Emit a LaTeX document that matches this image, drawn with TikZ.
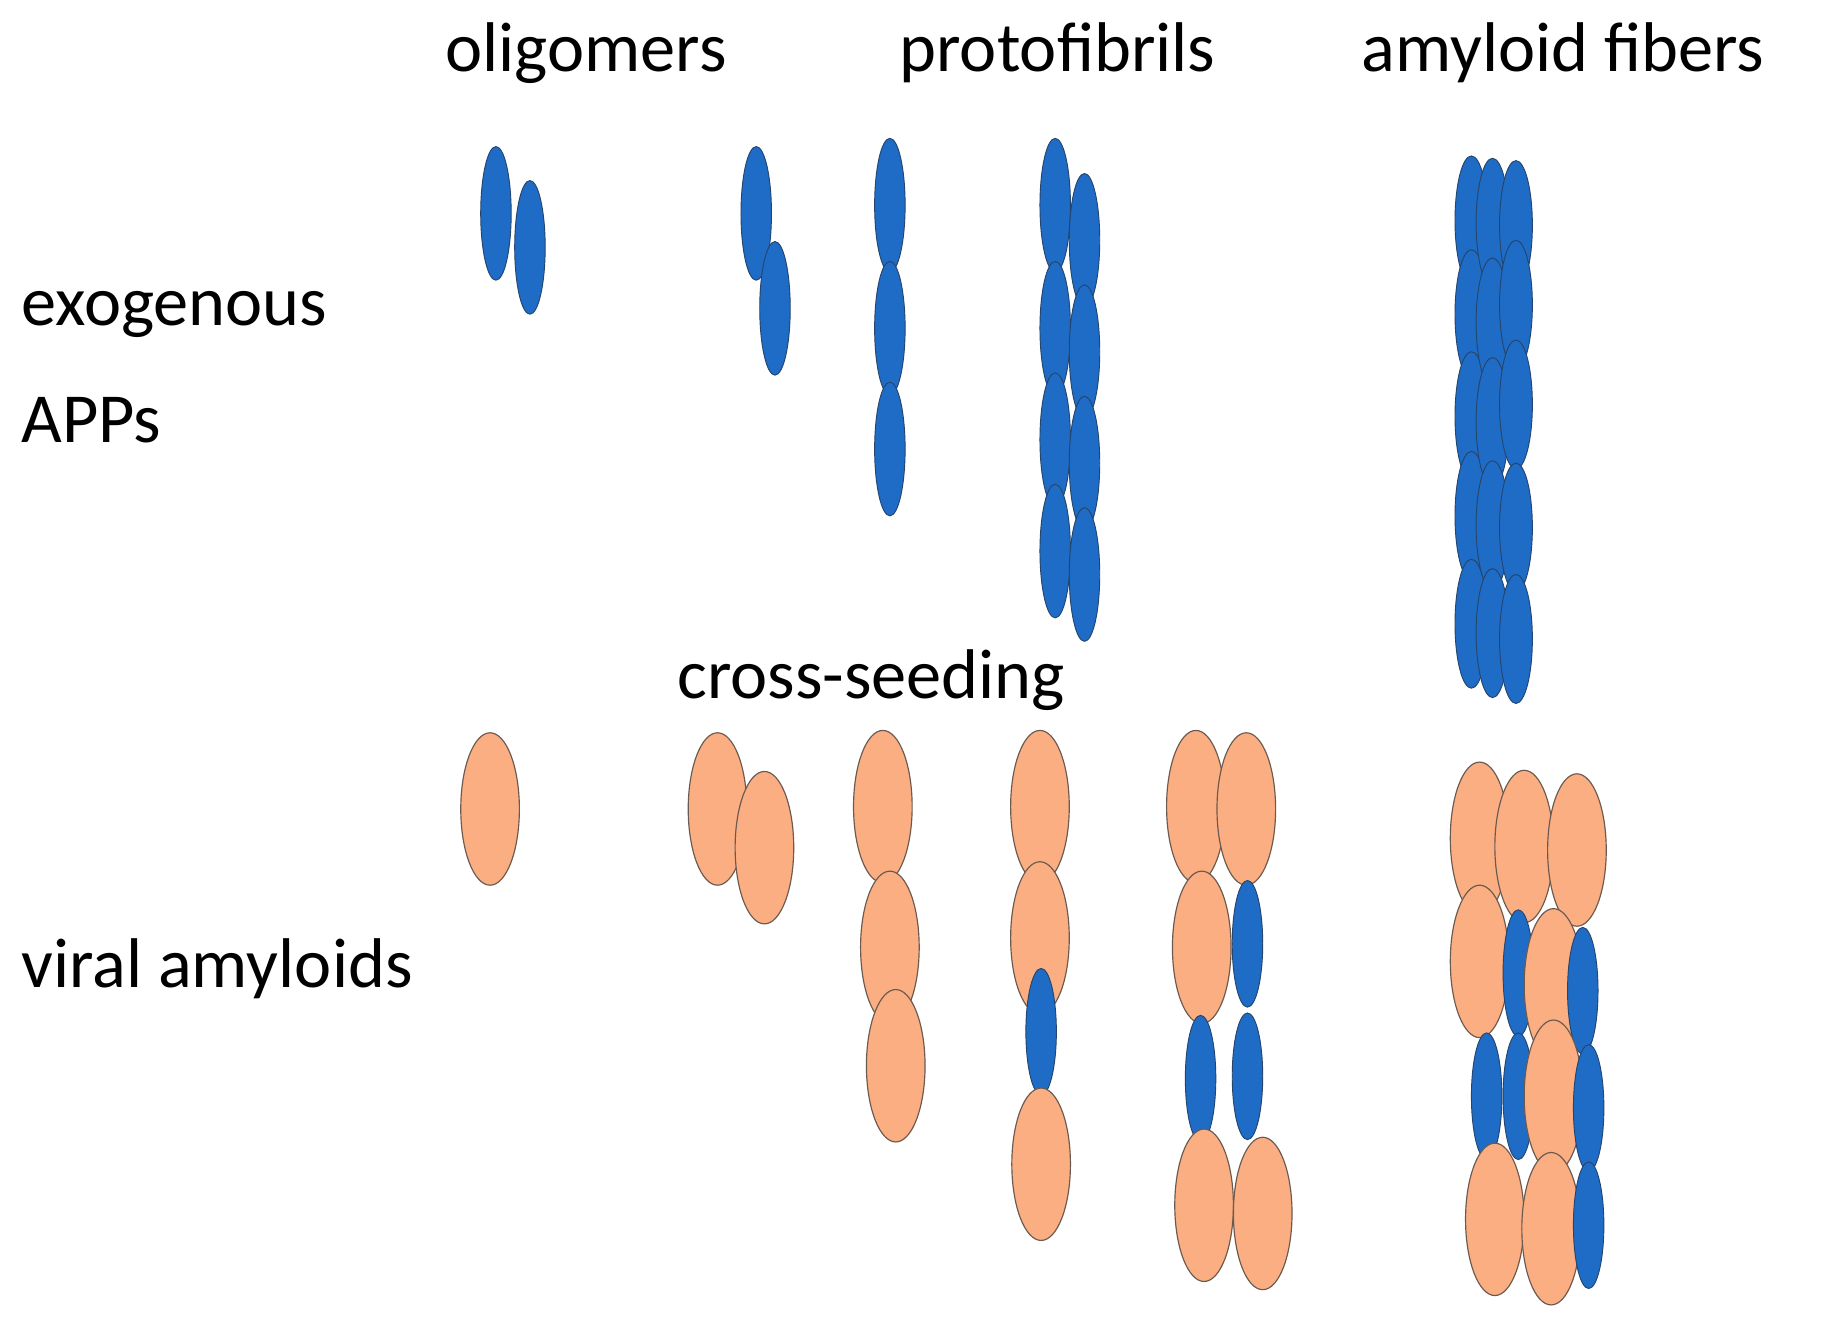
\documentclass[tikz,border=0pt]{standalone}
\usepackage{fontspec}
\setmainfont{Carlito}
\usetikzlibrary{shapes.geometric}
\definecolor{bl}{HTML}{1F6CC6}
\definecolor{blb}{HTML}{24456E}
\definecolor{or}{HTML}{FBAE82}
\definecolor{orb}{HTML}{6B5A50}
\tikzset{
 bS/.style={ellipse,fill=bl,draw=blb,line width=0.4pt,inner sep=0pt,minimum width=26*0.5pt,minimum height=114*0.5pt},
 bF/.style={ellipse,fill=bl,draw=blb,line width=0.4pt,inner sep=0pt,minimum width=28*0.5pt,minimum height=110*0.5pt},
 bC/.style={ellipse,fill=bl,draw=blb,line width=0.4pt,inner sep=0pt,minimum width=26*0.5pt,minimum height=108*0.5pt},
 oE/.style={ellipse,fill=or,draw=orb,line width=0.5pt,inner sep=0pt,minimum width=50*0.5pt,minimum height=130*0.5pt},
 lab/.style={font=\fontsize{30pt}{34pt}\selectfont,inner sep=0pt}
}
\begin{document}
\begin{tikzpicture}[x=0.5pt,y=-0.5pt]
\useasboundingbox (0,0) rectangle (1560,1129);
\node[lab] (t1) at (500,45) {oligomers};
\node[lab] (t2) at (902,45) {protofibrils};
\node[lab] (t3) at (1333,45) {amyloid fibers};
\node[lab,anchor=west] (t4) at (18,268) {exogenous};
\node[lab,anchor=west] (t5) at (18,358) {APPs};
\node[lab] (t6) at (743,580) {cross-seeding};
\node[lab,anchor=west] (t7) at (18,826) {viral amyloids};
% exogenous
\node[bS] (a1) at (423,182) {};
\node[bS] (a2) at (452,211) {};
\node[bS] (b1) at (645,182) {};
\node[bS] (b2) at (661,263) {};
\node[bS] (c1) at (759,175) {};
\node[bS] (c2) at (759,280) {};
\node[bS] (c3) at (759,383) {};
\foreach \y [count=\i] in {175,280,375,470} \node[bS] (pl\i) at (900,\y) {};
\foreach \y [count=\i] in {205,300,395,490} \node[bS] (pr\i) at (925,\y) {};
\foreach \y [count=\i] in {188,268,355,440,532} \node[bF] (fl\i) at (1255,\y) {};
\foreach \y [count=\i] in {190,275,360,448,540} \node[bF] (fm\i) at (1273,\y) {};
\foreach \y [count=\i] in {192,260,345,450,545} \node[bF] (fr\i) at (1293,\y) {};
% viral
\node[oE] (v1) at (418,690) {};
\node[oE] (w1) at (612,690) {};
\node[oE] (w2) at (652,723) {};
\node[oE] (x1) at (753,688) {};
\node[oE] (x2) at (759,808) {};
\node[oE] (x3) at (764,909) {};
\node[oE] (y1) at (887,688) {};
\node[oE] (y2) at (887,800) {};
\node[bC] (y3) at (888,880) {};
\node[oE] (y4) at (888,993) {};
\node[oE] (z1) at (1020,688) {};
\node[oE] (z2) at (1063,690) {};
\node[oE] (z3) at (1025,808) {};
\node[bC] (z4) at (1064,805) {};
\node[bC] (z5) at (1024,920) {};
\node[bC] (z6) at (1064,918) {};
\node[oE] (z7) at (1027,1028) {};
\node[oE] (z8) at (1077,1035) {};
\node[oE] (q1) at (1262,715) {};
\node[oE] (q2) at (1300,722) {};
\node[oE] (q3) at (1345,725) {};
\node[oE] (q4) at (1262,820) {};
\node[bC] (q5) at (1295,830) {};
\node[oE] (q6) at (1325,840) {};
\node[bC] (q7) at (1350,845) {};
\node[bC] (q8) at (1268,935) {};
\node[bC] (q9) at (1295,935) {};
\node[oE] (q10) at (1325,935) {};
\node[bC] (q11) at (1355,945) {};
\node[oE] (q12) at (1275,1040) {};
\node[oE] (q13) at (1323,1048) {};
\node[bC] (q14) at (1355,1045) {};
\end{tikzpicture}
\end{document}
